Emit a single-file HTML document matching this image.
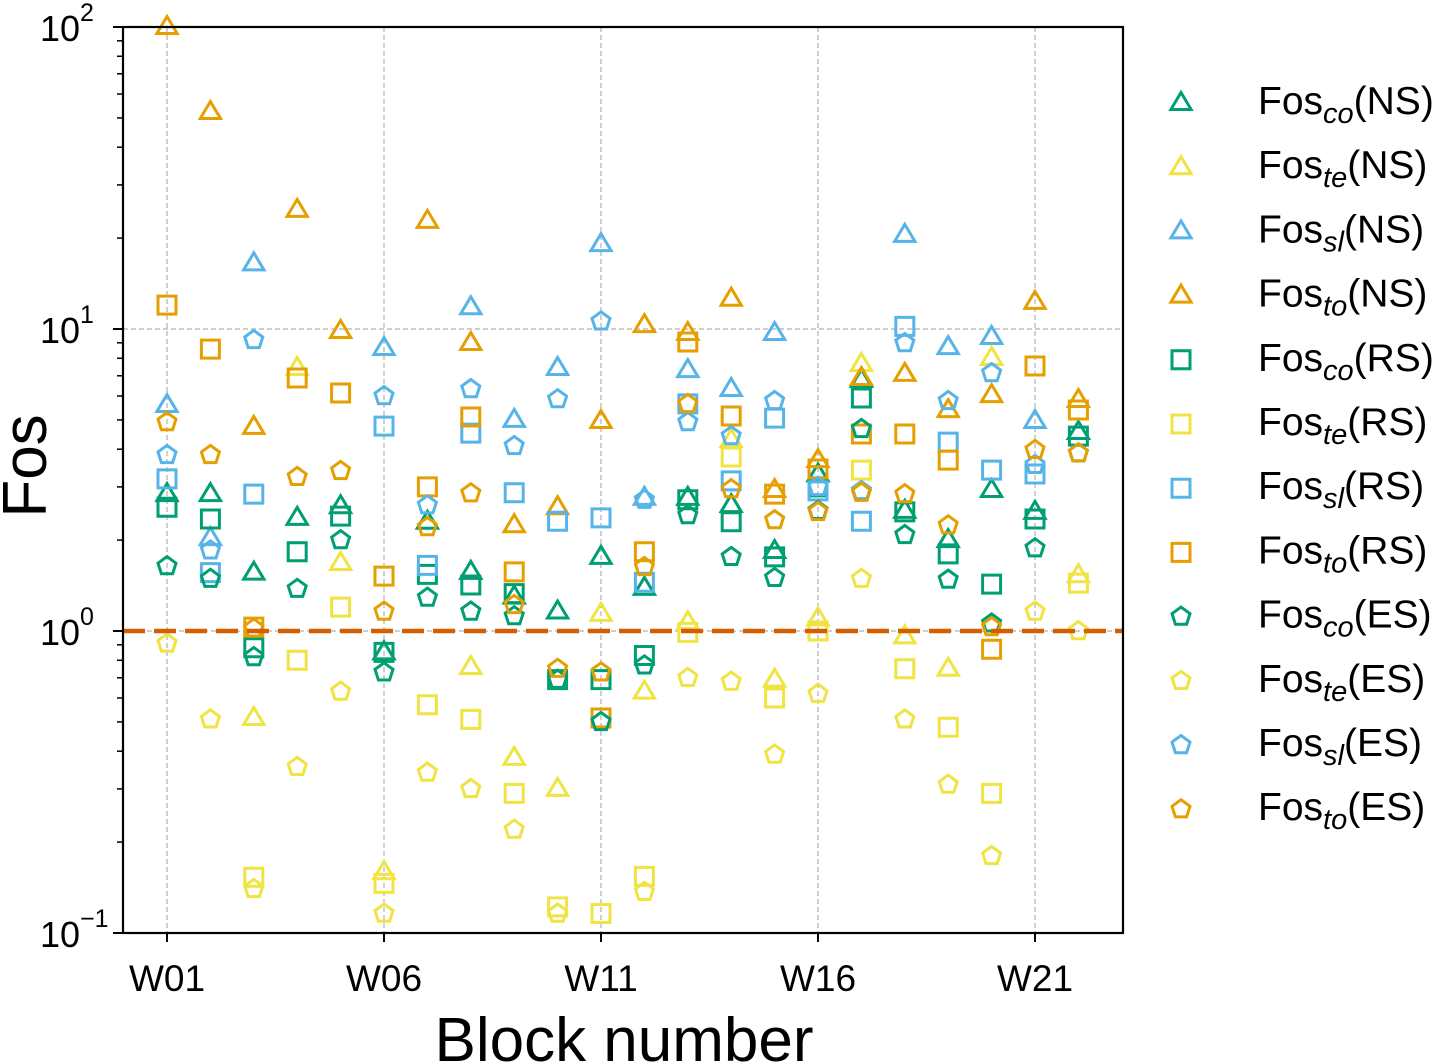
<!DOCTYPE html>
<html><head><meta charset="utf-8">
<style>
html,body{margin:0;padding:0;background:#fff;}
svg{display:block;font-family:"Liberation Sans",Arial,sans-serif;}
</style></head>
<body>
<svg id="chart" width="1446" height="1063" viewBox="0 0 1446 1063" xmlns="http://www.w3.org/2000/svg">
<g id="grid"></g>
<g id="marks"></g>
<rect x="123" y="27" width="1000" height="906" fill="none" stroke="#000" stroke-width="2.2"/>
<g id="axes"></g>
<g id="legend"></g>
<text x="624" y="1061" font-size="62" text-anchor="middle">Block number</text>
<text transform="translate(46,466) rotate(-90)" font-size="62" text-anchor="middle">Fos</text>
</svg>
<script>
const categories = ["W01","W02","W03","W04","W05","W06","W07","W08","W09","W10","W11","W12","W13","W14","W15","W16","W17","W18","W19","W20","W21","W22"];
const xTickLabels = ["W01","W06","W11","W16","W21"];
const yTickExps = [-1,0,1,2];
const N = null;
const coNS = [2.84,2.84,1.56,2.37,2.59,0.85,2.30,1.57,1.30,1.16,1.76,1.39,2.76,2.61,1.84,3.3,6.78,2.5,2.0,2.93,2.48,4.56];
const teNS = [N,N,0.515,7.43,1.68,0.159,N,0.76,0.38,0.30,1.14,0.63,1.07,4.29,0.69,1.10,7.66,0.96,0.75,8.02,N,1.53];
const slNS = [5.6,2.03,16.5,N,N,8.65,N,11.8,5.0,7.43,19.1,2.76,7.31,6.33,9.7,N,N,20.5,8.71,9.41,4.96,N];
const toNS = [100,52.3,4.74,24.8,9.85,N,22.8,8.99,2.24,2.57,4.96,10.3,9.7,12.6,2.93,3.68,6.88,7.1,5.39,6.04,12.3,5.82];
const coRS = [2.57,2.35,0.88,1.83,2.40,0.85,1.54,1.42,1.33,0.69,0.69,0.83,2.72,2.30,1.76,3.0,5.91,2.48,1.80,1.43,2.35,4.42];
const teRS = [N,N,0.153,0.80,1.20,0.146,0.57,0.51,0.29,0.122,0.116,0.154,0.99,3.77,0.60,1.0,3.41,0.75,0.48,0.29,N,1.44];
const slRS = [3.19,1.56,2.84,N,N,4.77,1.65,4.52,2.87,2.31,2.37,1.45,5.65,3.14,5.07,2.91,2.31,10.2,4.22,3.41,3.31,N];
const toRS = [12.0,8.58,1.03,6.88,6.14,1.52,3.0,5.11,1.57,N,0.515,1.83,9.06,5.15,2.84,3.44,4.49,4.49,3.68,0.87,7.54,5.39];
const coES = [1.64,1.49,0.82,1.38,2.0,0.73,1.29,1.16,1.12,0.69,0.50,0.77,2.42,1.76,1.50,2.5,4.67,2.08,1.48,1.06,1.88,3.88];
const teES = [0.91,0.51,0.14,0.355,0.63,0.116,0.34,0.30,0.22,0.116,N,0.137,0.70,0.68,0.39,0.62,1.49,0.51,0.31,0.18,1.16,1.0];
const slES = [3.83,1.85,9.2,N,N,6.0,2.61,6.33,4.10,5.86,10.6,2.72,4.92,4.42,5.78,3.0,2.91,8.99,5.78,7.15,3.55,N];
const toES = [4.92,3.83,1.02,3.24,3.39,1.16,2.21,2.86,1.22,0.75,0.73,1.63,5.65,2.95,2.33,2.48,2.87,2.84,2.24,1.03,3.98,3.88];

const NS="http://www.w3.org/2000/svg";
const X0=123,X1=1123,Y0=27,Y1=933;
function xs(i){return 167+i*43.4;}
function ys(v){return 631-Math.log10(v)*302;}
function mk(tag,attrs,parent){const e=document.createElementNS(NS,tag);for(const k in attrs)e.setAttribute(k,attrs[k]);parent.appendChild(e);return e;}
const C={co:"#009E73",te:"#F0E442",sl:"#56B4E9",to:"#E69F00"};
const series=[
 ["co","NS",coNS,"tri"],["te","NS",teNS,"tri"],["sl","NS",slNS,"tri"],["to","NS",toNS,"tri"],
 ["co","RS",coRS,"sq"],["te","RS",teRS,"sq"],["sl","RS",slRS,"sq"],["to","RS",toRS,"sq"],
 ["co","ES",coES,"pent"],["te","ES",teES,"pent"],["sl","ES",slES,"pent"],["to","ES",toES,"pent"]];
function shape(type,cx,cy,parent,color){
  let d;
  if(type==="tri"){const r=10.5;d=`M${cx},${cy-r} L${cx+r*0.87+1},${cy+r*0.62} L${cx-r*0.87-1},${cy+r*0.62} Z`;}
  else if(type==="sq"){const r=9;d=`M${cx-r},${cy-r} h${2*r} v${2*r} h${-2*r} Z`;}
  else{const r=9.5;let p=[];for(let k=0;k<5;k++){const a=-Math.PI/2+k*2*Math.PI/5;p.push((cx+r*Math.cos(a)).toFixed(1)+","+(cy+r*Math.sin(a)).toFixed(1));}d="M"+p.join(" L")+" Z";}
  return mk("path",{d:d,fill:"none",stroke:color,"stroke-width":3,"stroke-linejoin":"miter"},parent);
}
const grid=document.getElementById("grid"),axes=document.getElementById("axes"),marks=document.getElementById("marks"),legend=document.getElementById("legend");
xTickLabels.forEach(l=>{const x=xs(categories.indexOf(l));
 const g=mk("line",{x1:x,x2:x,y1:Y0,y2:Y1,stroke:"#b0b0b0","stroke-width":1.2,"stroke-dasharray":"5,3"},grid);
 
 
 mk("line",{x1:x,x2:x,y1:Y1,y2:Y1+9,stroke:"#000","stroke-width":2},axes);
 const t=mk("text",{x:x,y:991,"font-size":37,"text-anchor":"middle"},axes);t.textContent=l;
 
 
});
yTickExps.forEach(e=>{const y=ys(Math.pow(10,e));
 if(e>-1&&e<2){const g=mk("line",{x1:X0,x2:X1,y1:y,y2:y,stroke:"#b0b0b0","stroke-width":1.2,"stroke-dasharray":"5,3"},grid);
 
 }
 mk("line",{x1:X0-10,x2:X0,y1:y,y2:y,stroke:"#000","stroke-width":2},axes);
 const t=mk("text",{x:80,y:y+14,"font-size":36,"text-anchor":"end"},axes);t.textContent="10";
 
 
 const s=mk("text",{x:80,y:y-6,"font-size":25},axes);s.textContent=String(e).replace("-","\u2212");
 
 
 if(e<2)for(let m=2;m<10;m++){const yy=ys(m*Math.pow(10,e));mk("line",{x1:X0-6,x2:X0,y1:yy,y2:yy,stroke:"#000","stroke-width":1.5},axes);}
});
const th=mk("line",{x1:X0,x2:X1,y1:ys(1),y2:ys(1),stroke:"#D55E00","stroke-width":4.5,"stroke-dasharray":"22,9"},marks);
series.forEach(s=>{const [k,cond,vals,type]=s;
 vals.forEach((v,i)=>{if(v==null)return;
  const m=shape(type,xs(i),ys(v),marks,C[k]);
  
  
 });
});
marks.appendChild(th);


series.forEach((s,j)=>{const [k,cond,,type]=s;const y=100+j*64.2;
 const g=mk("g",{},legend);
 
 
 shape(type,1181,y+3,g,C[k]);
 const t=mk("text",{x:1258,y:y+14,"font-size":39},g);
 t.innerHTML='Fos<tspan font-size="29" font-style="italic" dy="9">'+k+'</tspan><tspan dy="-9">('+cond+')</tspan>';
});
</script>
</body></html>
